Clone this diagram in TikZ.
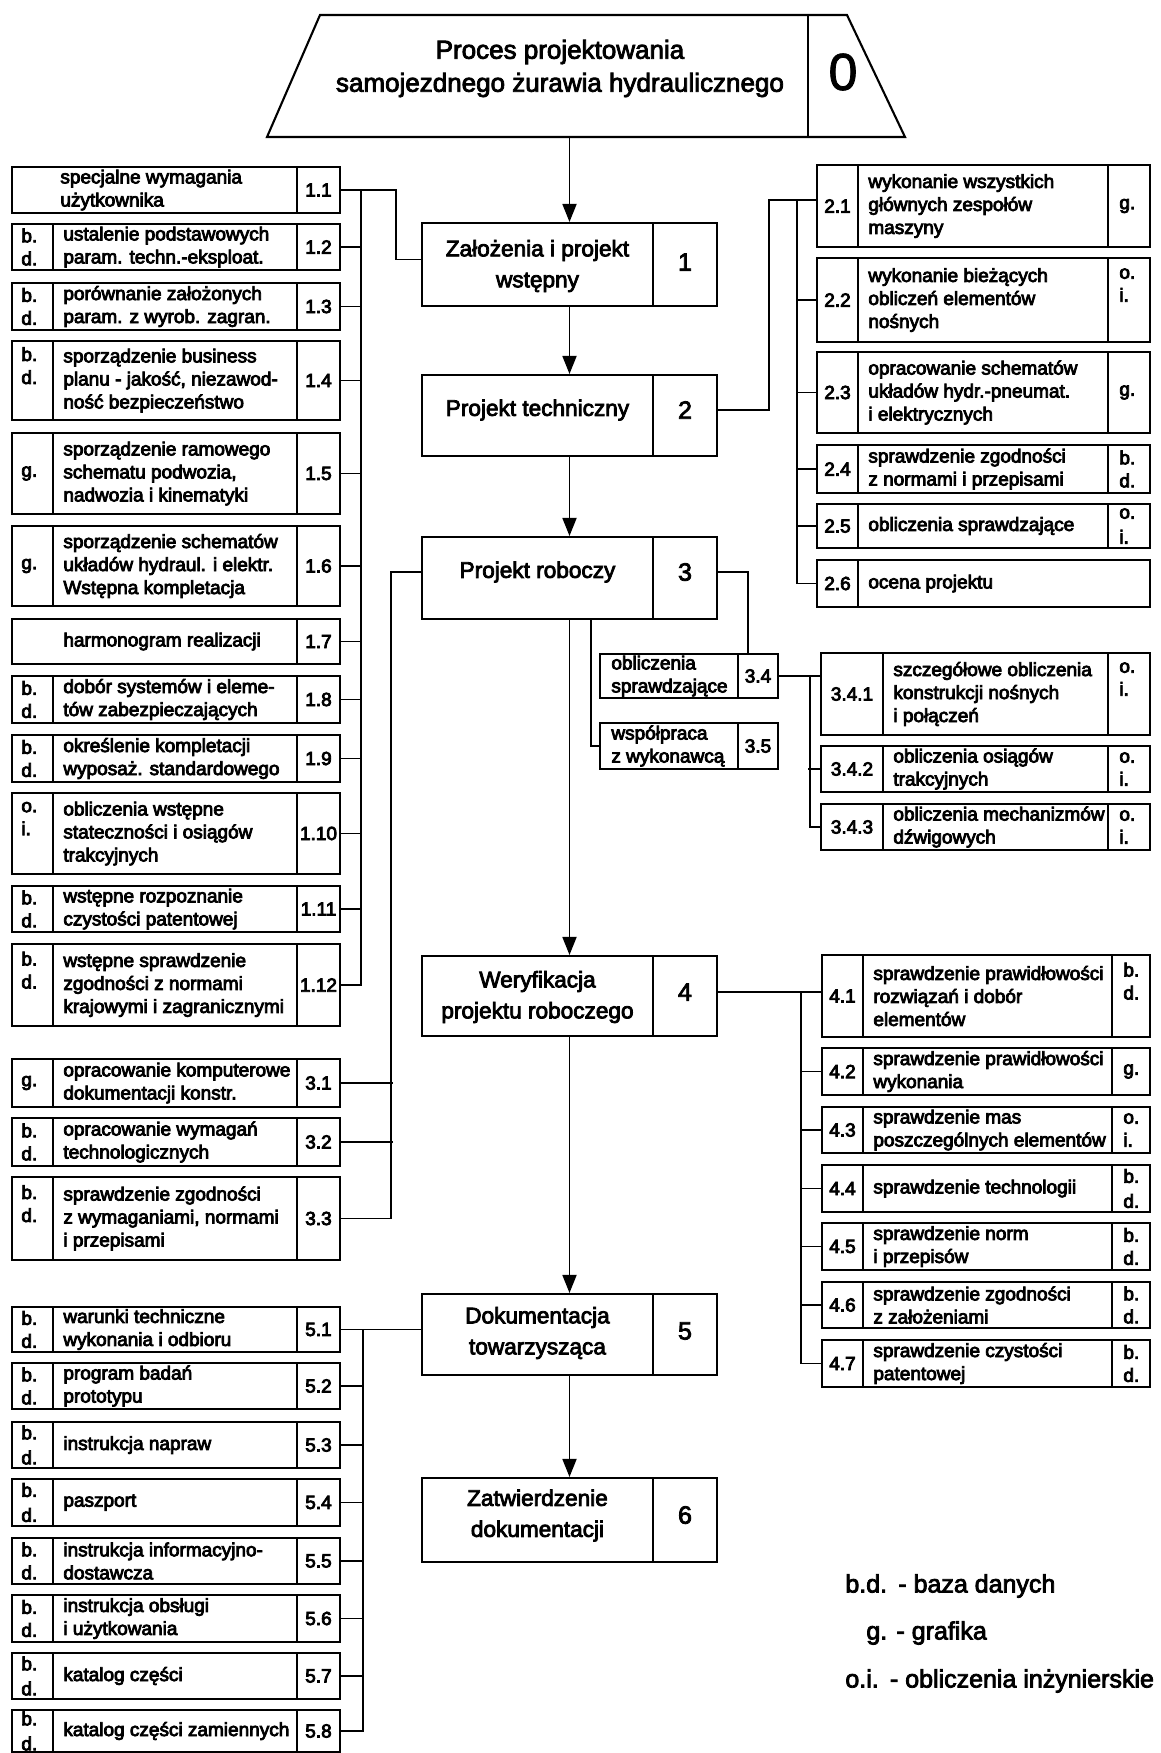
\documentclass[tikz,border=0pt]{standalone}
\usepackage{fontspec}
\setmainfont{Liberation Sans}
\usetikzlibrary{arrows.meta,calc,fit}
\tikzset{
  heavy/.style={execute at begin node={\special{pdf:literal direct 2 Tr 0.4 w}},
                execute at end node={\special{pdf:literal direct 0 Tr}}},
  bx/.style={draw, line width=1.05pt, inner sep=0pt, rectangle},
  dv/.style={line width=1.05pt},
  ln/.style={line width=0.9pt},
  arr/.style={line width=0.9pt, -{Triangle[width=7pt,length=9pt]}},
  tx/.style={heavy, font=\fontsize{9.5}{11.5}\selectfont, align=left, inner sep=0pt},
  nm/.style={heavy, font=\fontsize{9.5}{11.5}\selectfont, inner sep=0pt},
  mtx/.style={heavy, font=\fontsize{11.3}{15.5}\selectfont, align=center, inner sep=0pt},
  mnm/.style={heavy, font=\fontsize{12.5}{14}\selectfont, inner sep=0pt},
  lg/.style={heavy, font=\fontsize{12.5}{15}\selectfont, inner sep=0pt},
}
% left boxes: name, top, bottom, abbr, text, number
\newcommand{\LBox}[6]{%
  \node[bx, fit={(12,#2) (340,#3)}] (#1) {};
  \draw[dv] (53,#2) -- (53,#3) (297,#2) -- (297,#3);
  \node[tx, anchor=west] (#1a) at (21,{(#2+#3)/2}) {#4};
  \node[tx, anchor=west] (#1t) at (63,{(#2+#3)/2}) {#5};
  \node[nm] (#1n) at (318.5,{(#2+#3)/2}) {#6};
}
% left boxes without abbreviation cell: name, top, bottom, text x, text, number
\newcommand{\LBoxN}[6]{%
  \node[bx, fit={(12,#2) (340,#3)}] (#1) {};
  \draw[dv] (297,#2) -- (297,#3);
  \node[tx, anchor=west] (#1t) at (#4,{(#2+#3)/2}) {#5};
  \node[nm] (#1n) at (318.5,{(#2+#3)/2}) {#6};
}
% right boxes: name, left, numdiv, abbrdiv, top, bottom, number, text, abbr
\newcommand{\RBox}[9]{%
  \node[bx, fit={(#2,#5) (1150,#6)}] (#1) {};
  \draw[dv] (#3,#5) -- (#3,#6) (#4,#5) -- (#4,#6);
  \node[nm] (#1n) at ({(#2+#3)/2},{(#5+#6)/2}) {#7};
  \node[tx, anchor=west] (#1t) at ({#3+10},{(#5+#6)/2}) {#8};
  \node[tx, anchor=west] (#1a) at ({#4+11},{(#5+#6)/2}) {#9};
}
% small boxes 3.4 / 3.5: name, top, bottom, text, number
\newcommand{\SBox}[5]{%
  \node[bx, fit={(600,#2) (778,#3)}] (#1) {};
  \draw[dv] (738,#2) -- (738,#3);
  \node[tx, anchor=west] (#1t) at (611,{(#2+#3)/2}) {#4};
  \node[nm] (#1n) at (758,{(#2+#3)/2}) {#5};
}
% main boxes: name, top, bottom, text y, text, number y, number
\newcommand{\MBox}[7]{%
  \node[bx, fit={(422,#2) (717,#3)}] (#1) {};
  \draw[dv] (653,#2) -- (653,#3);
  \node[mtx] (#1t) at (537.5,#4) {#5};
  \node[mnm] (#1n) at (685,#6) {#7};
}
\begin{document}
\begin{tikzpicture}[x=0.5pt, y=-0.5pt]
\fill[white] (0,0) rectangle (1161,1753);
\useasboundingbox (0,0) rectangle (1161,1753);

% title trapezoid
\draw[line width=1.05pt] (320,15) -- (847,15) -- (905,137) -- (267,137) -- cycle;
\draw[dv] (808,15) -- (808,137);
\node[heavy, font=\fontsize{13}{16.5}\selectfont, align=center, inner sep=0pt] (T) at (560,68.5)
  {Proces projektowania\\samojezdnego żurawia hydraulicznego};
\node[heavy, font=\fontsize{26}{30}\selectfont, inner sep=0pt] (T0) at (843,72) {0};
\coordinate (Tb) at (569.5,137);

% main column
\MBox{B1}{223}{306}{266}{Założenia i projekt\\wstępny}{262}{1}
\MBox{B2}{375}{456}{410}{Projekt techniczny}{410}{2}
\MBox{B3}{537}{619}{572}{Projekt roboczy}{572}{3}
\MBox{B4}{956}{1036}{997}{Weryfikacja\\projektu roboczego}{992}{4}
\MBox{B5}{1294}{1375}{1333}{Dokumentacja\\towarzysząca}{1331}{5}
\MBox{B6}{1478}{1562}{1515.5}{Zatwierdzenie\\dokumentacji}{1515}{6}

\draw[arr] (Tb) -- (B1.north);
\draw[arr] (B1.south) -- (B2.north);
\draw[arr] (B2.south) -- (B3.north);
\draw[arr] (B3.south) -- (B4.north);
\draw[arr] (B4.south) -- (B5.north);
\draw[arr] (B5.south) -- (B6.north);

% 1.x
\LBoxN{b11}{167}{213}{60}{specjalne wymagania\\użytkownika}{1.1}
\LBox{b12}{224}{270}{b.\\d.}{ustalenie podstawowych\\param. techn.-eksploat.}{1.2}
\LBox{b13}{283}{330}{b.\\d.}{porównanie założonych\\param. z wyrob. zagran.}{1.3}
\LBox{b14}{341}{420}{b.\\d.\\\strut}{sporządzenie business\\planu - jakość, niezawod-\\ność bezpieczeństwo}{1.4}
\LBox{b15}{433}{514}{g.}{sporządzenie ramowego\\schematu podwozia,\\nadwozia i kinematyki}{1.5}
\LBox{b16}{526}{606}{g.}{sporządzenie schematów\\układów hydraul. i elektr.\\Wstępna kompletacja}{1.6}
\LBoxN{b17}{619}{664}{63}{harmonogram realizacji}{1.7}
\LBox{b18}{676}{723}{b.\\d.}{dobór systemów i eleme-\\tów zabezpieczających}{1.8}
\LBox{b19}{735}{782}{b.\\d.}{określenie kompletacji\\wyposaż. standardowego}{1.9}
\LBox{b110}{793}{874}{o.\\i.\\\strut}{obliczenia wstępne\\stateczności i osiągów\\trakcyjnych}{1.10}
\LBox{b111}{886}{932}{b.\\d.}{wstępne rozpoznanie\\czystości patentowej}{1.11}
\LBox{b112}{944}{1026}{b.\\d.\\\strut}{wstępne sprawdzenie\\zgodności z normami\\krajowymi i zagranicznymi}{1.12}

\draw[ln] (b11.east) -- ++(55,0) |- ([yshift=2.5pt]B1.west);
\draw[ln] ($(b11.east)+(20,0)$) |- (b112.east);
\foreach \n in {b12,b13,b14,b15,b16,b17,b18,b19,b110,b111}
  \draw[ln] (\n.east) -- ++(20,0);

% 3.1 - 3.3
\LBox{b31}{1059}{1107}{g.}{opracowanie komputerowe\\dokumentacji konstr.}{3.1}
\LBox{b32}{1118}{1166}{b.\\d.}{opracowanie wymagań\\technologicznych}{3.2}
\LBox{b33}{1177}{1260}{b.\\d.\\\strut}{sprawdzenie zgodności\\z wymaganiami, normami\\i przepisami}{3.3}

\draw[ln] (B3.west |- B3n) -- ++(-30,0) |- (b33.east);
\foreach \n in {b31,b32}
  \draw[ln] (\n.east) -- ++(52,0);

% 5.x
\LBox{b51}{1307}{1352}{b.\\d.}{warunki techniczne\\wykonania i odbioru}{5.1}
\LBox{b52}{1363}{1409}{b.\\d.}{program badań\\prototypu}{5.2}
\LBox{b53}{1422}{1468}{b.\\[1pt]d.}{instrukcja napraw}{5.3}
\LBox{b54}{1479}{1526}{b.\\[1pt]d.}{paszport}{5.4}
\LBox{b55}{1538}{1584}{b.\\d.}{instrukcja informacyjno-\\dostawcza}{5.5}
\LBox{b56}{1595}{1642}{b.\\d.}{instrukcja obsługi\\i użytkowania}{5.6}
\LBox{b57}{1653}{1699}{b.\\[1pt]d.}{katalog części}{5.7}
\LBox{b58}{1710}{1752}{b.\\[1pt]d.}{katalog części zamiennych}{5.8}

\draw[ln] (b51.east) -- (b51.east -| B5.west);
\draw[ln] ($(b51.east)+(22,0)$) |- (b58.east);
\foreach \n in {b52,b53,b54,b55,b56,b57}
  \draw[ln] (\n.east) -- ++(22,0);

% 2.x
\RBox{b21}{817}{858}{1108}{165}{247}{2.1}{wykonanie wszystkich\\głównych zespołów\\maszyny}{g.}
\RBox{b22}{817}{858}{1108}{258}{342}{2.2}{wykonanie bieżących\\obliczeń elementów\\nośnych}{o.\\i.\\\strut}
\RBox{b23}{817}{858}{1108}{352}{433}{2.3}{opracowanie schematów\\układów hydr.-pneumat.\\i elektrycznych}{g.}
\RBox{b24}{817}{858}{1108}{445}{493}{2.4}{sprawdzenie zgodności\\z normami i przepisami}{b.\\d.}
\RBox{b25}{817}{858}{1108}{504}{548}{2.5}{obliczenia sprawdzające}{o.\\[1pt]i.}
\RBox{b26}{817}{858}{1150}{560}{607}{2.6}{ocena projektu}{}

\draw[ln] (B2.east |- B2n) -- ++(51,0) |- ([yshift=3pt]b21.west);
\draw[ln] ($(b21.west)+(-19,-6)$) |- (b26.west);
\foreach \n in {b22,b23,b24,b25}
  \draw[ln] (\n.west) -- ++(-19,0);

% 3.4, 3.5
\SBox{b34}{654}{698}{obliczenia\\sprawdzające}{3.4}
\SBox{b35}{723}{769}{współpraca\\z wykonawcą}{3.5}
\draw[ln] (B3.east |- B3n) -| ($(b34.north west)+(149,0)$);
\draw[ln] ($(B3.south west)+(170,0)$) |- (b35.west);

% 3.4.x
\RBox{b341}{821}{883}{1108}{653}{735}{3.4.1}{szczegółowe obliczenia\\konstrukcji nośnych\\i połączeń}{o.\\i.\\\strut}
\RBox{b342}{821}{883}{1108}{746}{792}{3.4.2}{obliczenia osiągów\\trakcyjnych}{o.\\i.}
\RBox{b343}{821}{883}{1108}{804}{850}{3.4.3}{obliczenia mechanizmów\\dźwigowych}{o.\\i.}
\draw[ln] (b34.east) -- (b34.east -| b341.west);
\draw[ln] ($(b34.east)+(31,0)$) |- (b343.west);
\draw[ln] (b342.west) -- ++(-12,0);

% 4.x
\RBox{b41}{822}{863}{1112}{955}{1037}{4.1}{sprawdzenie prawidłowości\\rozwiązań i dobór\\elementów}{b.\\d.\\\strut}
\RBox{b42}{822}{863}{1112}{1048}{1095}{4.2}{sprawdzenie prawidłowości\\wykonania}{g.}
\RBox{b43}{822}{863}{1112}{1107}{1153}{4.3}{sprawdzenie mas\\poszczególnych elementów}{o.\\i.}
\RBox{b44}{822}{863}{1112}{1165}{1212}{4.4}{sprawdzenie technologii}{b.\\[1pt]d.}
\RBox{b45}{822}{863}{1112}{1223}{1270}{4.5}{sprawdzenie norm\\i przepisów}{b.\\d.}
\RBox{b46}{822}{863}{1112}{1282}{1328}{4.6}{sprawdzenie zgodności\\z założeniami}{b.\\d.}
\RBox{b47}{822}{863}{1112}{1340}{1387}{4.7}{sprawdzenie czystości\\patentowej}{b.\\d.}
\draw[ln] (B4.east |- B4n) -- (B4n -| b41.west);
\draw[ln] ($(B4n -| b41.west)+(-20,0)$) |- (b47.west);
\foreach \n in {b42,b43,b44,b45,b46}
  \draw[ln] (\n.west) -- ++(-20,0);

% legend
\node[lg, anchor=west] (L1) at (845,1586) {b.d.\hspace{0.45em}- baza danych};
\node[lg, anchor=west] (L2) at (866,1633) {g. - grafika};
\node[lg, anchor=west] (L3) at (845,1681) {o.i.\hspace{0.45em}- obliczenia inżynierskie};
\end{tikzpicture}
\end{document}
